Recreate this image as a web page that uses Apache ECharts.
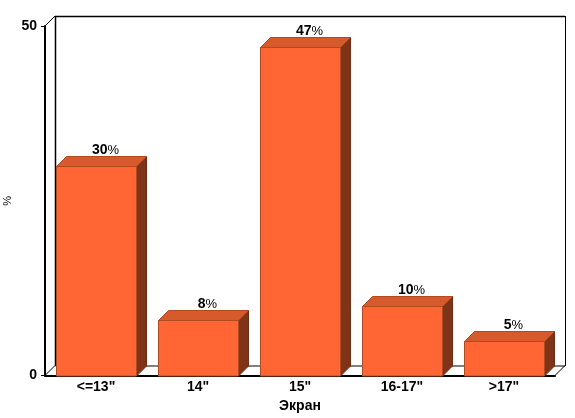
<!DOCTYPE html>
<html>
<head>
<meta charset="utf-8">
<style>
html, body { margin: 0; padding: 0; background: #fff; }
#chart { width: 575px; height: 418px; }
</style>
<script src="https://cdn.jsdelivr.net/npm/echarts@6/dist/echarts.min.js"></script>
</head>
<body>
<div id="chart"></div>
<script>
var categories = ['<=13"', '14"', '15"', '16-17"', '>17"'];
var values = [30, 8, 47, 10, 5];
var yTicks = [0, 50];

var depth = 10;      // сдвиг "3D"
var barWidth = 80;
var font = '"Liberation Sans", Arial, sans-serif';

// задняя стенка
function renderWall(params, api) {
    var c = params.coordSys;
    var l = c.x, t = c.y, r = c.x + c.width, b = c.y + c.height;
    function seg(x1, y1, x2, y2, w) {
        return { type: 'line', shape: { x1: x1, y1: y1, x2: x2, y2: y2 }, style: { stroke: '#000', lineWidth: w || 1 } };
    }
    return {
        type: 'group',
        children: [
            seg(l + depth + 0.5, b - depth + 0.5, r + depth, b - depth + 0.5),
            seg(r + depth + 0.5, t - depth, r + depth + 0.5, b - depth + 0.5),
            seg(l + depth + 0.5, t - depth, l + depth + 0.5, b - depth + 0.5, 1.5),
            seg(l + depth, t - depth + 0.5, r + depth, t - depth + 0.5, 1.5),
            seg(l, t, l + depth, t - depth),
            seg(l, b, l + depth, b - depth),
            seg(r, b, r + depth, b - depth)
        ]
    };
}

function renderBar(params, api) {
    var top = api.coord([api.value(0), api.value(1)]);
    var base = api.coord([api.value(0), 0]);
    var x0 = Math.round(top[0] - barWidth / 2) + 0.5;
    var x1 = x0 + barWidth;
    var y0 = Math.round(top[1]) + 0.5;
    var y1 = Math.round(base[1]);
    var edge = '#B04A22';
    return {
        type: 'group',
        children: [
            {
                type: 'polygon',
                shape: { points: [[x1, y0], [x1 + depth, y0 - depth], [x1 + depth, y1 - depth], [x1, y1]] },
                style: { fill: '#7F3418', stroke: '#6E2D14', lineWidth: 1 }
            },
            {
                type: 'polygon',
                shape: { points: [[x0, y0], [x0 + depth, y0 - depth], [x1 + depth, y0 - depth], [x1, y0]] },
                style: { fill: '#D65A2C', stroke: edge, lineWidth: 1 }
            },
            {
                type: 'rect',
                shape: { x: x0, y: y0, width: barWidth, height: y1 - y0 },
                style: { fill: '#FF6633', stroke: edge, lineWidth: 1 }
            },
            {
                type: 'text',
                x: x0 + (barWidth + depth) / 2 + 4,
                y: y0 - depth - 6,
                style: {
                    text: '{v|' + api.value(1) + '}{p|%}',
                    align: 'center',
                    verticalAlign: 'middle',
                    rich: {
                        v: { font: 'bold 14px ' + font, fill: '#000' },
                        p: { font: '13px ' + font, fill: '#000' }
                    }
                }
            }
        ]
    };
}

var option = {
    backgroundColor: '#fff',
    animation: false,
    grid: { left: 45, top: 26, width: 510, height: 349.5, outerBoundsMode: 'none' },
    xAxis: {
        type: 'category',
        data: categories,
        name: 'Экран',
        nameLocation: 'middle',
        nameGap: 24,
        nameMoveOverlap: false,
        nameTextStyle: { color: '#000', fontFamily: font, fontWeight: 'bold', fontSize: 14 },
        axisLine: { lineStyle: { color: '#000', width: 2 } },
        axisTick: { length: 4, lineStyle: { color: '#000', width: 1 } },
        axisLabel: { color: '#000', fontFamily: font, fontWeight: 'bold', fontSize: 14, margin: 5, interval: 0 }
    },
    yAxis: {
        type: 'value',
        min: yTicks[0],
        max: yTicks[1],
        interval: yTicks[1] - yTicks[0],
        name: '%',
        nameLocation: 'middle',
        nameGap: 32,
        nameMoveOverlap: false,
        nameTextStyle: { color: '#000', fontFamily: font, fontSize: 11 },
        splitLine: { show: false },
        axisLine: { show: true, lineStyle: { color: '#000', width: 2 } },
        axisTick: { show: true, length: 4, lineStyle: { color: '#000', width: 1 } },
        axisLabel: { color: '#000', fontFamily: font, fontWeight: 'bold', fontSize: 14, margin: 8, padding: [2, 0, 0, 0] }
    },
    series: [
        {
            type: 'custom',
            renderItem: renderWall,
            data: [[0, 0]],
            silent: true,
            clip: false,
            z: 1
        },
        {
            type: 'custom',
            renderItem: renderBar,
            encode: { x: 0, y: 1 },
            data: values.map(function (v, i) { return [i, v]; }),
            clip: false,
            z: 3
        }
    ]
};

var chart = echarts.init(document.getElementById('chart'));
chart.setOption(option);
</script>
</body>
</html>
